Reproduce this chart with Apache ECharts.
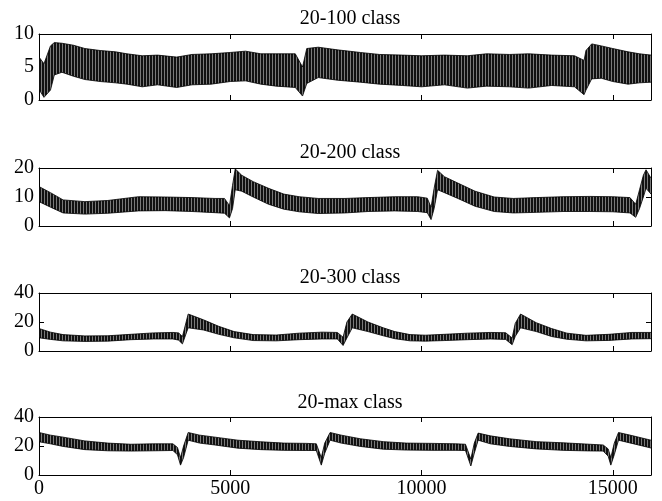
<!DOCTYPE html>
<html>
<head>
<meta charset="utf-8">
<title>class</title>
<script src="https://cdn.jsdelivr.net/npm/echarts@6/dist/echarts.min.js"></script>
<style>
  html, body { margin: 0; padding: 0; background: #fff; }
  #main { width: 662px; height: 501px; }
</style>
</head>
<body>
<div id="main"></div>
<script>
// panel titles and y ranges
var titles = ['20-100 class', '20-200 class', '20-300 class', '20-max class'];
var yMax = [10, 20, 40, 40];
var yStep = [5, 10, 20, 20];
var xMax = 16000;
var xStep = 5000;

// oscillating signals, read as lower / upper envelope at sample points
var x1  = [0, 130, 300, 400, 600, 900, 1200, 1600, 2000, 2300, 2700, 3100, 3600, 4000, 4500, 5000, 5400, 5800, 6200, 6700, 6890, 7000, 7300, 7800, 8400, 8900, 9500, 10000, 10600, 11200, 11700, 12300, 12800, 13400, 14000, 14250, 14300, 14450, 14700, 15000, 15400, 15700, 16000];
var lo1 = [1.6, 0.4, 1.5, 3.8, 4.2, 3.6, 3.1, 2.8, 2.6, 2.4, 2.0, 2.3, 1.9, 2.3, 2.4, 2.8, 2.9, 2.4, 2.1, 1.9, 0.6, 2.5, 3.4, 3.0, 2.7, 2.4, 2.2, 2.0, 2.3, 1.8, 2.1, 2.0, 1.8, 2.2, 2.0, 0.8, 1.5, 3.2, 3.3, 2.8, 2.4, 2.6, 2.7];
var hi1 = [6.5, 5.5, 8.2, 8.7, 8.6, 8.3, 7.8, 7.5, 7.3, 7.0, 6.7, 6.8, 6.5, 6.9, 7.0, 7.2, 7.4, 7.0, 7.0, 7.0, 5.0, 7.8, 8.0, 7.6, 7.2, 6.9, 6.8, 6.7, 6.8, 6.7, 7.0, 6.9, 7.0, 6.8, 6.7, 6.0, 7.5, 8.5, 8.2, 7.8, 7.3, 7.0, 6.8];

var x2  = [0, 300, 630, 1200, 1800, 2600, 3300, 4000, 4600, 4850, 4980, 5060, 5130, 5300, 5600, 6000, 6400, 6800, 7300, 8000, 8600, 9300, 9900, 10150, 10250, 10330, 10420, 10600, 10950, 11400, 11900, 12400, 13000, 13700, 14400, 15000, 15450, 15600, 15700, 15800, 15870, 16000];
var lo2 = [8.4, 6.5, 4.5, 4.1, 4.4, 5.2, 5.3, 5.0, 4.6, 4.4, 2.8, 6.0, 12.5, 12.0, 10.0, 7.5, 5.8, 4.9, 4.3, 4.5, 5.0, 5.2, 5.0, 4.6, 2.2, 6.0, 12.5, 11.5, 9.5, 6.8, 5.0, 4.5, 4.7, 5.0, 5.0, 4.9, 4.5, 3.0, 6.0, 10.0, 13.0, 11.0];
var hi2 = [13.6, 11.5, 9.0, 8.4, 8.8, 10.1, 10.0, 9.8, 9.5, 9.5, 7.0, 14.0, 19.7, 17.5, 15.3, 13.0, 11.0, 10.1, 9.5, 9.5, 9.8, 10.1, 10.1, 9.6, 6.5, 13.0, 19.2, 17.0, 14.8, 12.0, 10.0, 9.5, 9.8, 10.1, 10.2, 10.1, 9.8, 7.5, 12.5, 17.5, 19.4, 16.5];

var x3  = [0, 300, 630, 1200, 1800, 2400, 3000, 3500, 3650, 3750, 3900, 4300, 4700, 5100, 5600, 6200, 6800, 7400, 7800, 7950, 8050, 8190, 8600, 9000, 9300, 9700, 10100, 10600, 11200, 11800, 12200, 12370, 12450, 12590, 13000, 13400, 13800, 14300, 14900, 15500, 16000];
var lo3 = [9.1, 8.0, 7.0, 6.6, 6.8, 7.8, 8.3, 8.3, 7.5, 4.9, 16.0, 14.5, 11.5, 9.1, 7.2, 7.0, 7.8, 8.3, 8.3, 3.8, 9.0, 16.0, 13.4, 10.5, 8.5, 7.0, 6.8, 7.2, 7.8, 8.3, 8.0, 4.3, 10.0, 16.0, 13.4, 10.0, 8.1, 7.0, 7.3, 8.3, 8.5];
var hi3 = [15.5, 13.0, 11.3, 10.4, 10.5, 11.5, 12.5, 12.8, 12.5, 10.0, 25.5, 21.5, 17.0, 13.4, 11.3, 11.0, 12.3, 13.0, 12.8, 9.5, 20.0, 25.5, 20.0, 16.0, 13.4, 11.3, 10.9, 11.5, 12.3, 12.8, 12.6, 9.0, 19.0, 25.5, 19.5, 15.5, 12.3, 10.8, 11.5, 12.8, 12.8];

var x4  = [0, 300, 630, 1200, 1800, 2400, 3000, 3500, 3620, 3700, 3780, 3900, 4200, 4600, 5200, 5800, 6400, 7000, 7250, 7380, 7470, 7610, 7900, 8400, 9000, 9600, 10300, 10900, 11150, 11290, 11380, 11480, 11800, 12300, 13000, 13700, 14400, 14750, 14880, 14950, 15040, 15150, 15500, 16000];
var lo4 = [22.9, 21.5, 19.7, 17.5, 16.7, 16.5, 16.7, 16.9, 14.0, 6.8, 12.0, 24.0, 22.0, 20.7, 18.5, 17.5, 17.0, 16.9, 16.9, 6.8, 15.0, 24.0, 22.0, 19.7, 17.8, 17.2, 17.0, 17.0, 16.9, 6.2, 15.0, 24.0, 21.5, 19.7, 18.0, 17.0, 16.6, 16.5, 13.0, 6.8, 14.0, 24.0, 21.8, 18.6];
var hi4 = [29.3, 27.5, 26.1, 23.5, 22.0, 21.2, 21.5, 21.5, 19.0, 12.0, 20.0, 29.3, 27.5, 26.1, 24.0, 22.9, 22.0, 21.8, 21.5, 12.0, 22.0, 29.3, 27.5, 25.0, 23.0, 22.0, 21.8, 21.5, 21.2, 11.0, 22.0, 28.9, 27.0, 25.0, 23.0, 22.2, 21.2, 20.7, 18.0, 12.0, 22.0, 29.3, 27.2, 24.0];

var xs = [x1, x2, x3, x4];
var los = [lo1, lo2, lo3, lo4];
var his = [hi1, hi2, hi3, hi4];

// layout
var gridTop = [34, 168, 293, 417];
var gridH = [66, 58, 58, 58];
var titleTop = [4, 138, 263, 388];
var font = 'Liberation Serif';

// vertical-stripe fill to look like the dense oscillation
var pat = document.createElement('canvas');
pat.width = 3; pat.height = 2;
var pc = pat.getContext('2d');
pc.fillStyle = '#7a7a7a'; pc.fillRect(0, 0, 3, 2);
pc.fillStyle = '#111'; pc.fillRect(0, 0, 2, 2);

// band between lower and upper envelope, one polygon per panel
function bandRenderer(ii) {
  return function (params, api) {
    if (params.dataIndex !== 0) return;
    var top = [], bot = [];
    for (var k = 0; k < xs[ii].length; k++) {
      top.push(api.coord([xs[ii][k], his[ii][k]]));
      bot.push(api.coord([xs[ii][k], los[ii][k]]));
    }
    var poly = top.concat(bot.slice().reverse());
    return {
      type: 'group',
      children: [
        { type: 'polygon', shape: { points: poly },
          style: { fill: { image: pat, repeat: 'repeat' }, stroke: null } },
        { type: 'polyline', shape: { points: top },
          style: { fill: null, stroke: '#000', lineWidth: 0.8 } },
        { type: 'polyline', shape: { points: bot },
          style: { fill: null, stroke: '#000', lineWidth: 0.8 } }
      ]
    };
  };
}

var grid = [], xAxis = [], yAxis = [], series = [], title = [];
for (var i = 0; i < 4; i++) {
  grid.push({ left: 39, right: 11, top: gridTop[i], height: gridH[i] });
  title.push({
    text: titles[i], left: 345, top: titleTop[i], textAlign: 'center',
    textStyle: { fontFamily: font, fontSize: 20, fontWeight: 'normal', color: '#000' }
  });
  ['bottom', 'top'].forEach(function (pos) {
    xAxis.push({
      type: 'value', gridIndex: i, position: pos, min: 0, max: xMax, interval: xStep,
      axisLine: { onZero: false, lineStyle: { color: '#000', width: 1 } },
      axisTick: { inside: true, length: 5, lineStyle: { color: '#000' } },
      axisLabel: {
        show: pos === 'bottom' && i === 3, margin: 4, showMaxLabel: false,
        fontFamily: font, fontSize: 20, color: '#000',
        formatter: function (v) { return v % xStep === 0 ? String(v) : ''; }
      },
      splitLine: { show: false }
    });
  });
  ['left', 'right'].forEach(function (pos) {
    yAxis.push({
      type: 'value', gridIndex: i, position: pos, min: 0, max: yMax[i], interval: yStep[i],
      axisLine: { onZero: false, lineStyle: { color: '#000', width: 1 } },
      axisTick: { inside: true, length: 5, lineStyle: { color: '#000' } },
      axisLabel: { show: pos === 'left', margin: 5, fontFamily: font, fontSize: 20, color: '#000' },
      splitLine: { show: false }
    });
  });
  var pts = [];
  for (var k = 0; k < xs[i].length; k++) pts.push([xs[i][k], los[i][k], his[i][k]]);
  series.push({
    type: 'custom', xAxisIndex: 2 * i, yAxisIndex: 2 * i, clip: true, silent: true,
    renderItem: bandRenderer(i),
    encode: { x: 0, y: [1, 2] },
    data: pts
  });
}

var myChart = echarts.init(document.getElementById('main'));
myChart.setOption({
  animation: false,
  backgroundColor: '#fff',
  title: title,
  grid: grid,
  xAxis: xAxis,
  yAxis: yAxis,
  series: series
});
</script>
</body>
</html>
